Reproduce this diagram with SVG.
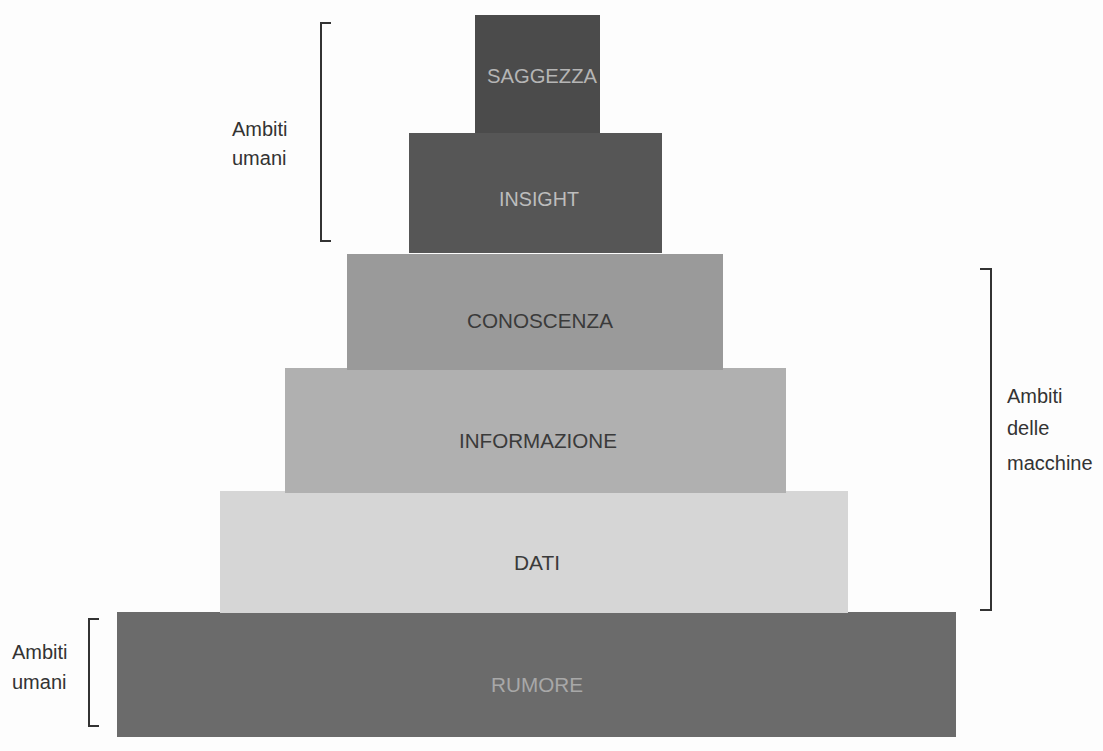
<svg xmlns="http://www.w3.org/2000/svg" width="1103" height="751" viewBox="0 0 1103 751">
<style>
.lvl{font-family:"Liberation Sans",Arial,sans-serif;font-size:21px;text-anchor:middle}
.lab{font-family:"Liberation Sans",Arial,sans-serif;font-size:20px;fill:#333}
.br{fill:none;stroke:#333;stroke-width:2}
</style>
<rect width="1103" height="751" fill="#fdfdfd"/>
<g id="rumore"><rect x="117" y="612" width="839" height="125" fill="#6b6b6b"/><text class="lvl" x="537" y="692" fill="#a8a8a8" textLength="92" lengthAdjust="spacingAndGlyphs">RUMORE</text></g>
<g id="dati"><rect x="220" y="491" width="628" height="122" fill="#d6d6d6"/><text class="lvl" x="537" y="570" fill="#3a3a3a" textLength="46" lengthAdjust="spacingAndGlyphs">DATI</text></g>
<g id="informazione"><rect x="285" y="368" width="501" height="125" fill="#b0b0b0"/><text class="lvl" x="538" y="448" fill="#3a3a3a" textLength="158" lengthAdjust="spacingAndGlyphs">INFORMAZIONE</text></g>
<g id="conoscenza"><rect x="347" y="254" width="376" height="116" fill="#9a9a9a"/><text class="lvl" x="540" y="328" fill="#3a3a3a" textLength="146" lengthAdjust="spacingAndGlyphs">CONOSCENZA</text></g>
<g id="insight"><rect x="409" y="133" width="253" height="120" fill="#565656"/><text class="lvl" x="539" y="206" fill="#bdbdbd" textLength="80" lengthAdjust="spacingAndGlyphs">INSIGHT</text></g>
<g id="saggezza"><rect x="475" y="15" width="125" height="118" fill="#4b4b4b"/><text class="lvl" x="542" y="83" fill="#b5b5b5" textLength="110" lengthAdjust="spacingAndGlyphs">SAGGEZZA</text></g>
<g id="connectors">
<path class="br" d="M331 23 H321 V241 H331"/>
<path class="br" d="M99 619 H89 V726 H99"/>
<path class="br" d="M980 269 H991 V610 H980"/>
</g>
<g id="labels">
<text class="lab" x="232" y="136">Ambiti</text><text class="lab" x="232" y="165">umani</text>
<text class="lab" x="12" y="659">Ambiti</text><text class="lab" x="12" y="689">umani</text>
<text class="lab" x="1007" y="403">Ambiti</text><text class="lab" x="1007" y="435">delle</text><text class="lab" x="1007" y="470">macchine</text>
</g>
</svg>
